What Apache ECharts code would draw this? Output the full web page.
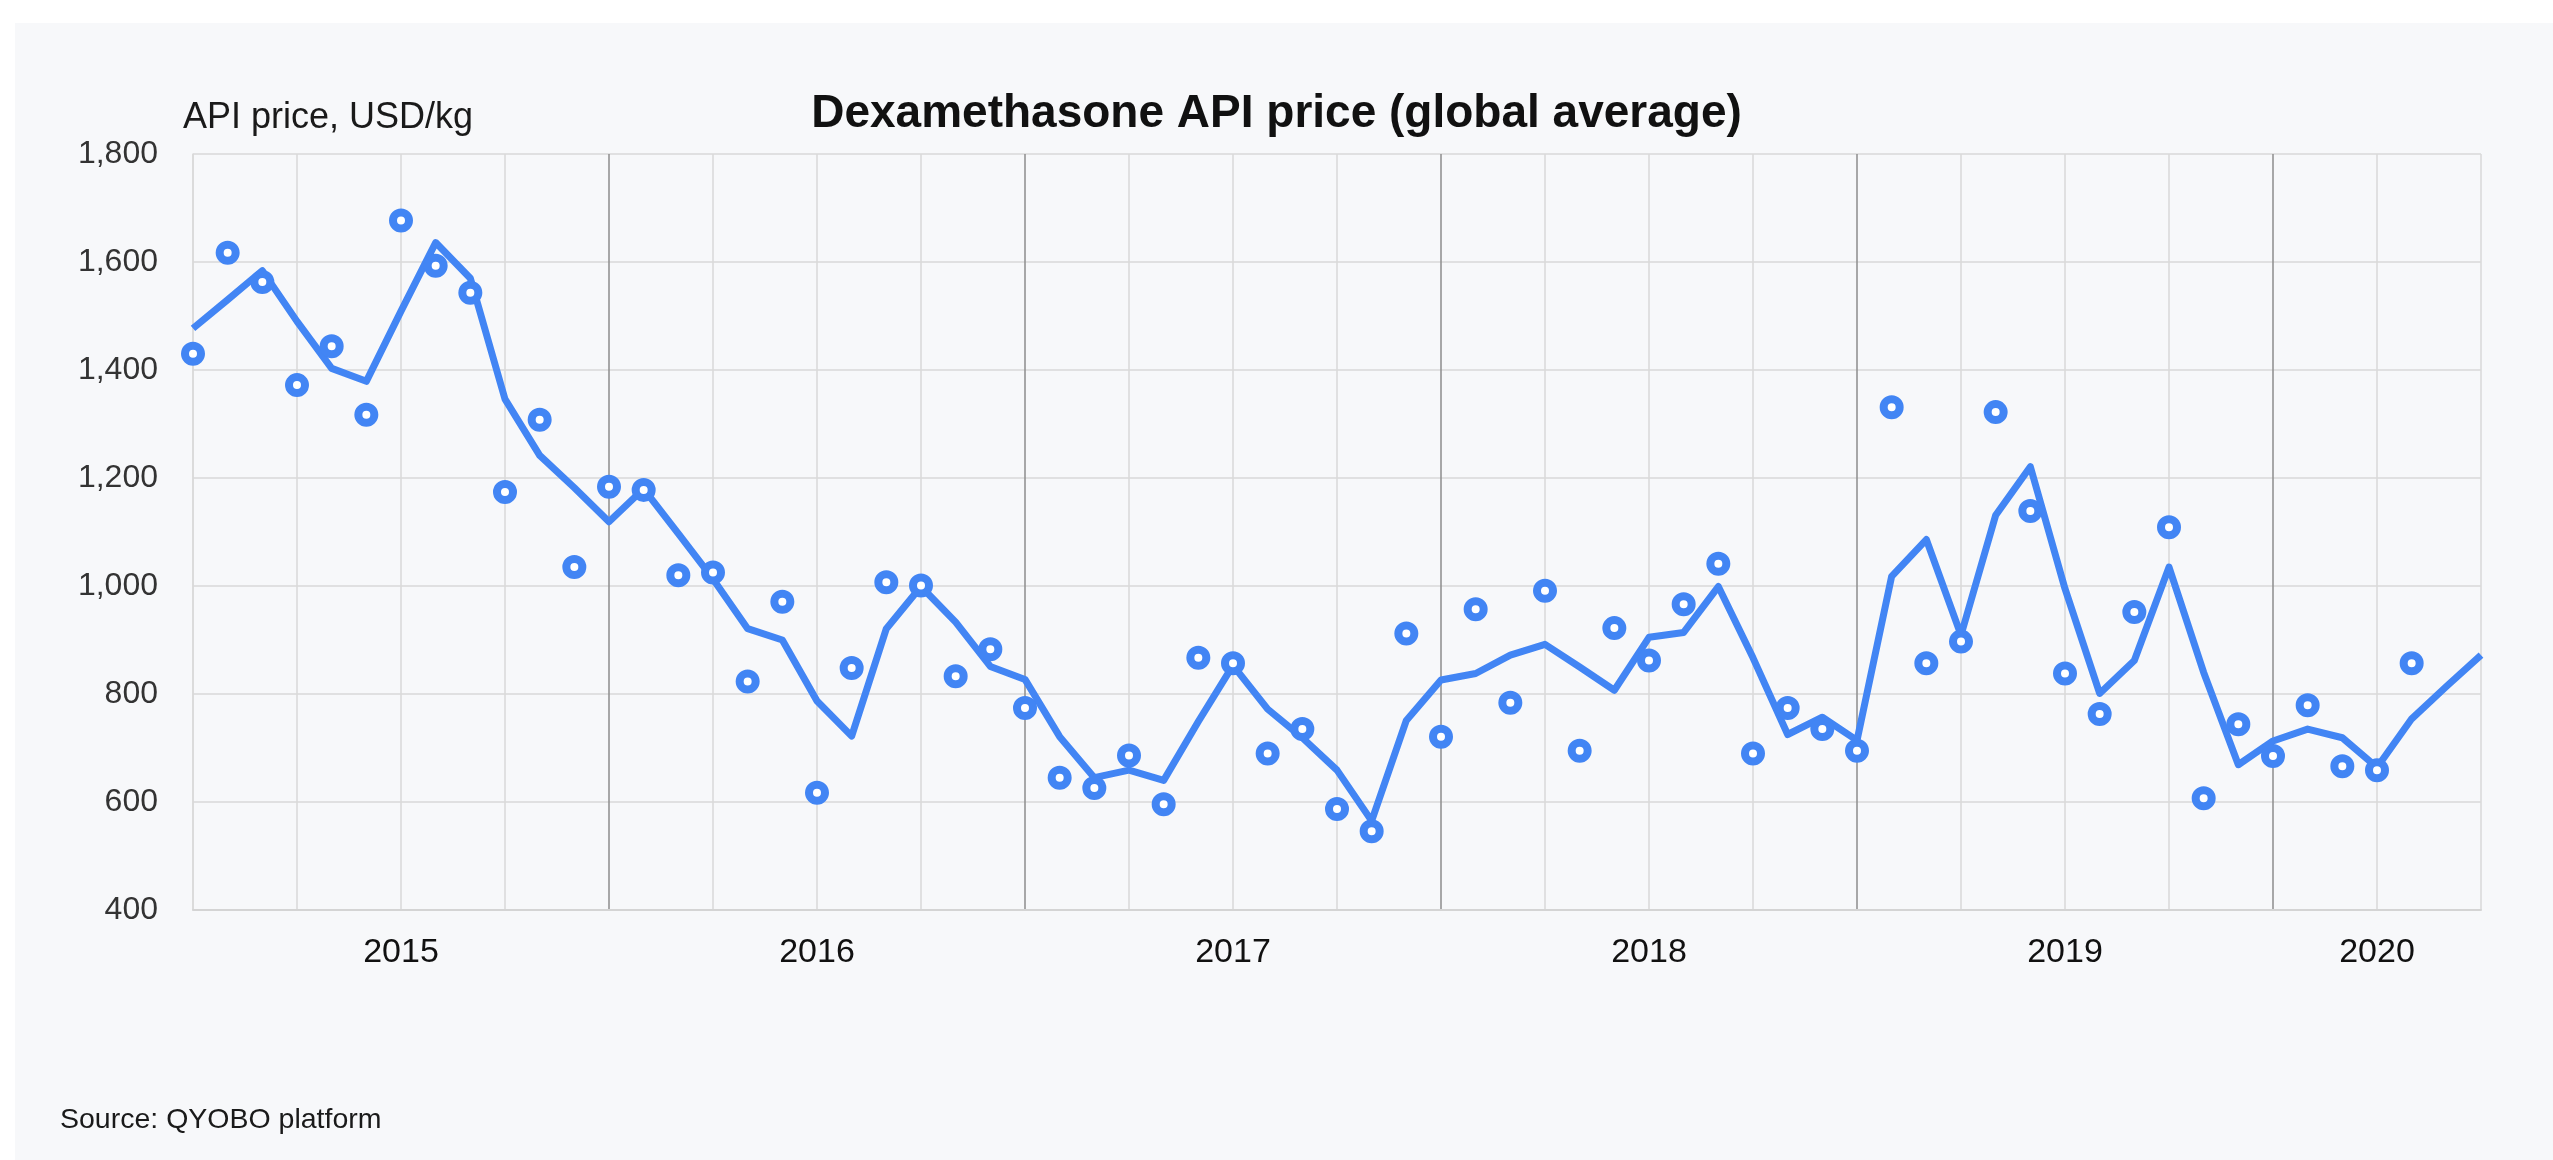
<!DOCTYPE html>
<html>
<head>
<meta charset="utf-8">
<script src="https://cdn.jsdelivr.net/npm/echarts@6/dist/echarts.min.js"></script>
<style>
  html, body { margin: 0; padding: 0; background: #fff; }
  #panel { position: absolute; left: 15px; top: 23px; right: 0; bottom: 0; background: #f7f8fa; }
  #chart { position: absolute; left: 0; top: 0; width: 2553px; height: 1160px; }
</style>
</head>
<body>
<div id="panel"></div>
<div id="chart"></div>
<script>
// monthly series, Jan 2015 .. Jul 2020
const startYear = 2015
const monthCount = 67

// trend line (one value per month)
const trendValues = [
  1477, 1530, 1584, 1490, 1403, 1379, 1509, 1636, 1570, 1346, 1242, 1182,
  1119, 1180, 1097, 1013, 921, 900, 787, 722, 921, 999, 933, 851,
  827, 721, 645, 659, 640, 749, 853, 772, 719, 659, 565, 751,
  826, 838, 872, 892, 850, 807, 905, 914, 999, 867, 725, 757,
  714, 1018, 1086, 909, 1131, 1221, 995, 801, 862, 1035, 840, 669,
  713, 735, 719, 664, 754, 814, 872
]

// monthly observed prices (dots)
const priceValues = [
  1430, 1617, 1563, 1372, 1444, 1317, 1677, 1593, 1543, 1174, 1308, 1035,
  1184, 1178, 1020, 1025, 823, 971, 617, 848, 1007, 1001, 833, 883,
  774, 645, 626, 686, 596, 867, 857, 690, 735, 587, 546, 912,
  721, 957, 784, 991, 695, 922, 862, 966, 1041, 690, 774, 735,
  695, 1331, 857, 897, 1322, 1139, 838, 763, 952, 1109, 607, 744,
  685, 779, 666, 659, 857
]

const yTicks = { min: 400, max: 1800, step: 200 }

const months = []
for (let i = 0; i < monthCount; i++) {
  const y = startYear + Math.floor(i / 12)
  const m = (i % 12) + 1
  months.push(`${y}-${String(m).padStart(2, '0')}`)
}

// a year label sits in the middle of the part of that year shown on the axis
const yearLabelIdx = []
for (let s = 0; s < monthCount - 1; s += 12) {
  yearLabelIdx.push(Math.round((s + Math.min(s + 12, monthCount - 1)) / 2))
}

const blue = '#4285f4'
const font = 'Liberation Sans, Arial, Helvetica, sans-serif'

const chart = echarts.init(document.getElementById('chart'))
chart.setOption({
  backgroundColor: 'transparent',
  animation: false,
  textStyle: { fontFamily: font },
  title: [
    {
      text: 'Dexamethasone API price (global average)',
      left: 'center',
      top: 86,
      textStyle: { fontSize: 46, fontWeight: 'bold', color: '#111', fontFamily: font }
    },
    {
      text: 'API price, USD/kg',
      left: 178,
      top: 95,
      textStyle: { fontSize: 36, fontWeight: 'normal', color: '#1a1a1a', fontFamily: font }
    },
    {
      text: 'Source: QYOBO platform',
      left: 55,
      top: 1101,
      textStyle: { fontSize: 28.5, fontWeight: 'normal', color: '#1a1a1a', fontFamily: font }
    }
  ],
  grid: { left: 193, right: 72, top: 154, bottom: 250 },
  xAxis: [
    {
      type: 'category',
      data: months,
      boundaryGap: false,
      axisLine: { show: true, lineStyle: { color: '#d4d4d4', width: 2 } },
      axisTick: { show: false },
      axisLabel: {
        interval: (i) => yearLabelIdx.includes(i),
        formatter: (v) => v.slice(0, 4),
        fontSize: 34,
        color: '#111',
        margin: 26
      },
      splitLine: {
        show: true,
        interval: (i) => i % 3 === 0 && (i % 12 !== 0 || i === 0),
        lineStyle: { color: '#d9d9d9', width: 1.5 }
      }
    },
    {
      type: 'category',
      data: months,
      boundaryGap: false,
      axisLine: { show: false },
      axisTick: { show: false },
      axisLabel: { show: false },
      splitLine: {
        show: true,
        interval: (i) => i % 12 === 0 && i > 0,
        lineStyle: { color: '#8c8c8c', width: 1.5 }
      }
    }
  ],
  yAxis: {
    type: 'value',
    min: yTicks.min,
    max: yTicks.max,
    interval: yTicks.step,
    axisLine: { show: true, lineStyle: { color: '#d9d9d9', width: 1.5 } },
    axisTick: { show: false },
    axisLabel: {
      fontSize: 32,
      color: '#333',
      margin: 35,
      formatter: (v) => v.toLocaleString('en-US')
    },
    splitLine: { lineStyle: { color: '#d9d9d9', width: 1.5 } }
  },
  series: [
    {
      type: 'line',
      data: trendValues,
      showSymbol: false,
      lineStyle: { color: blue, width: 7, join: 'round' },
      z: 2
    },
    {
      type: 'scatter',
      data: priceValues,
      symbol: 'circle',
      symbolSize: 16,
      itemStyle: { color: '#fff', borderColor: blue, borderWidth: 8, opacity: 1 },
      z: 3
    }
  ]
})
</script>
</body>
</html>
